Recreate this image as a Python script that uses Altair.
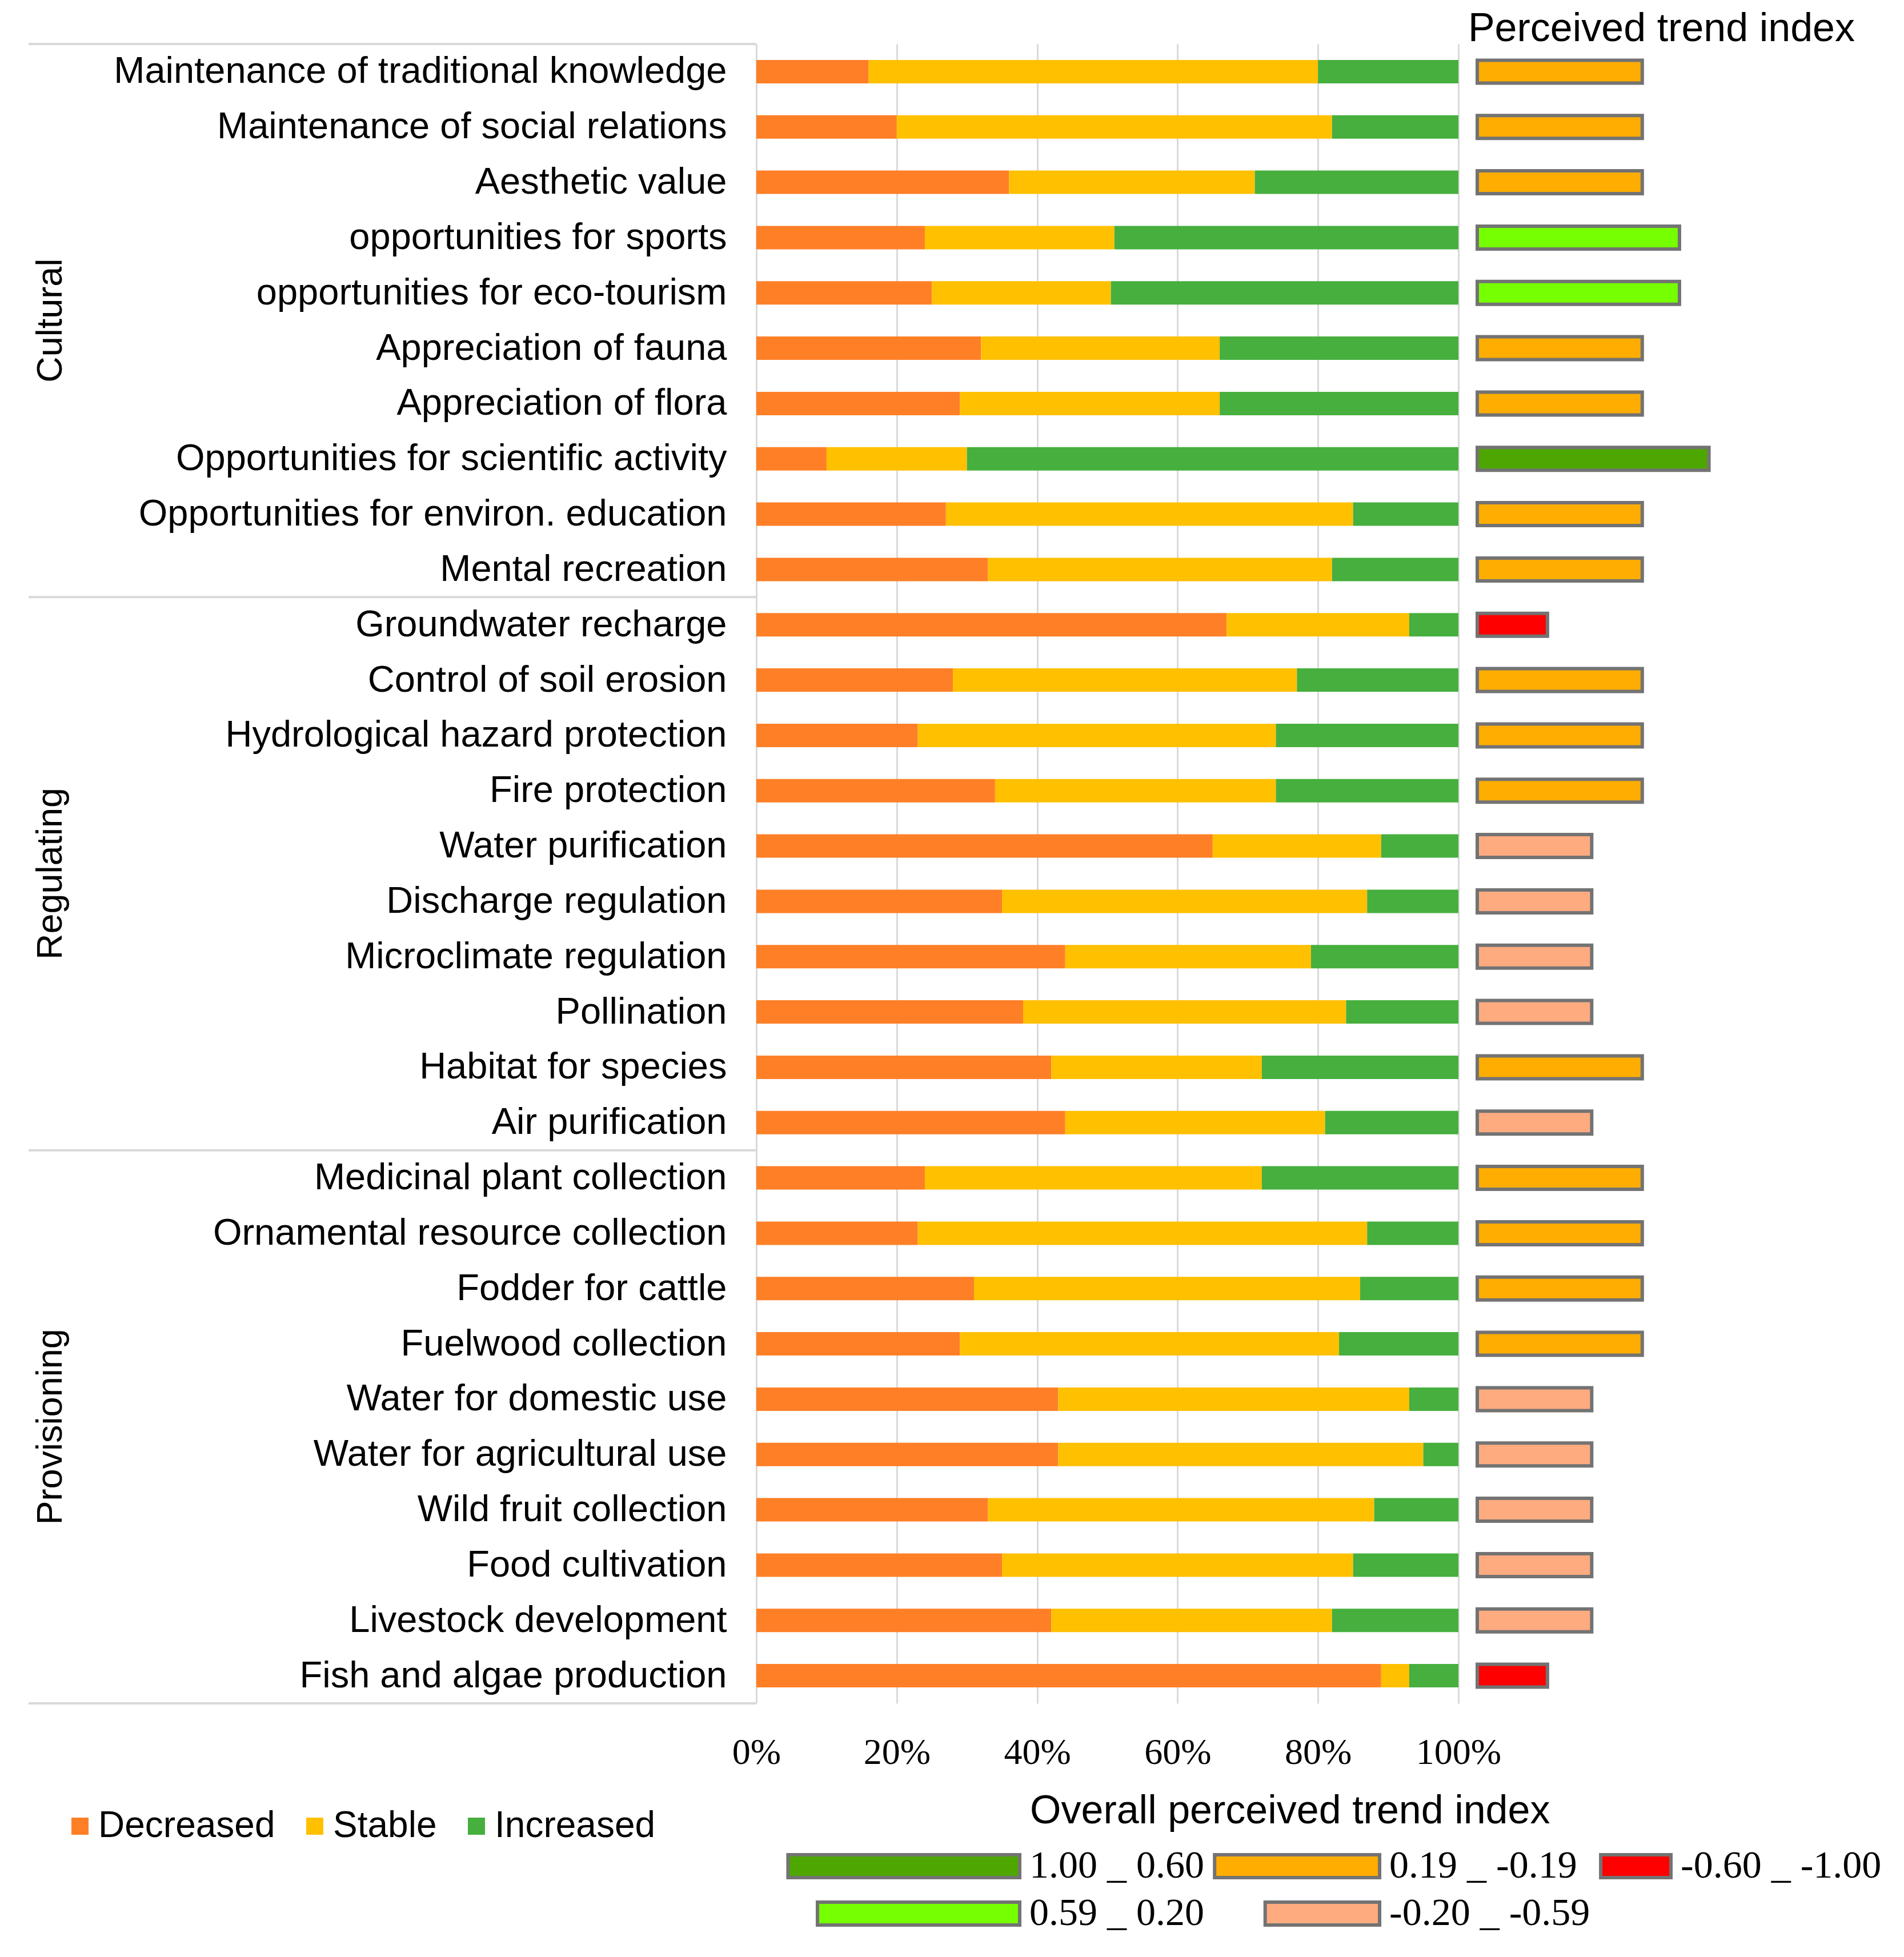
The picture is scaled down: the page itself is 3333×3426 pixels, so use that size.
import altair as alt
import pandas as pd

NB = "\u00a0"
categories = [
    "Maintenance of traditional knowledge" + NB,
    "Maintenance of social relations",
    "Aesthetic value",
    "opportunities for sports",
    "opportunities for eco-tourism",
    "Appreciation of fauna",
    "Appreciation of flora",
    "Opportunities for scientific activity",
    "Opportunities for environ. education",
    "Mental recreation" + NB,
    "Groundwater recharge",
    "Control of soil erosion",
    "Hydrological hazard protection" + NB,
    "Fire protection",
    "Water purification",
    "Discharge regulation",
    "Microclimate regulation",
    "Pollination",
    "Habitat for species",
    "Air purification",
    "Medicinal plant collection",
    "Ornamental resource collection",
    "Fodder for cattle",
    "Fuelwood collection",
    "Water for domestic use",
    "Water for agricultural use",
    "Wild fruit collection",
    "Food cultivation",
    "Livestock development",
    "Fish and algae production",
]
group_names = ["Cultural", "Regulating", "Provisioning"]
groups = ["Cultural"] * 10 + ["Regulating"] * 10 + ["Provisioning"] * 10

decreased = [16, 20, 36, 24, 25, 32, 29, 10, 27, 33,
             67, 28, 23, 34, 65, 35, 44, 38, 42, 44,
             24, 23, 31, 29, 43, 43, 33, 35, 42, 89]
stable = [64, 62, 35, 27, 25.5, 34, 37, 20, 58, 49,
          26, 49, 51, 40, 24, 52, 35, 46, 30, 37,
          48, 64, 55, 54, 50, 52, 55, 50, 40, 4]
increased = [20, 18, 29, 49, 49.5, 34, 34, 70, 15, 18,
             7, 23, 26, 26, 11, 13, 21, 16, 28, 19,
             28, 13, 14, 17, 7, 5, 12, 15, 18, 7]

C_DG, C_LG, C_OR, C_SA, C_RD = "1.00 _ 0.60", "0.59 _ 0.20", "0.19 _ -0.19", "-0.20 _ -0.59", "-0.60 _ -1.00"
trend_class = [C_OR, C_OR, C_OR, C_LG, C_LG, C_OR, C_OR, C_DG, C_OR, C_OR,
               C_RD, C_OR, C_OR, C_OR, C_SA, C_SA, C_SA, C_SA, C_OR, C_SA,
               C_OR, C_OR, C_OR, C_OR, C_SA, C_SA, C_SA, C_SA, C_SA, C_RD]

responses = ["Decreased", "Stable", "Increased"]
response_colors = ["#FF7F27", "#FFC000", "#46AF3E"]

class_labels = [C_DG, C_LG, C_OR, C_SA, C_RD]
class_colors = ["#4EA700", "#76FF00", "#FFAD00", "#FFAB80", "#FF0000"]
class_bar = [0.330, 0.288, 0.235, 0.163, 0.100]  # bar length, share of the 0-100% span
BORDER = "#737373"

SPAN = 1229
PLOT_W = 1923
PLOT_H = 2905

df = pd.DataFrame({"category": categories, "group": groups,
                   "Decreased": decreased, "Stable": stable, "Increased": increased,
                   "cls": trend_class})
df["bar"] = df["cls"].map(dict(zip(class_labels, class_bar)))

long = df.melt(id_vars=["category"], value_vars=responses, var_name="response", value_name="pct")
long["rorder"] = long["response"].map({r: i for i, r in enumerate(responses)})

first_cats = df.groupby("group", sort=False)["category"].first().reset_index()
last_cat = df.tail(1)[["group", "category"]]
mid_cats = df.groupby("group", sort=False).nth(5)[["group", "category"]]


def Y(**kw):
    return alt.Y("category:N", sort=categories, title=None,
                 scale=alt.Scale(paddingInner=0, paddingOuter=0),
                 axis=alt.Axis(labelFont="Liberation Sans", labelFontSize=65, labelColor="black",
                               labelPadding=52, labelLimit=0, ticks=False, domain=False, grid=False),
                 **kw)


bars = alt.Chart(long).mark_bar(size=41).encode(
    y=Y(),
    x=alt.X("pct:Q", stack="zero",
            scale=alt.Scale(domain=[0, 100], range=[0, SPAN], nice=False),
            axis=alt.Axis(values=[0, 20, 40, 60, 80, 100], labelExpr="datum.value + '%'",
                          grid=True, gridColor="#D9D9D9", gridWidth=3, domain=False, ticks=False,
                          labelFlush=False, labelFont="Liberation Serif", labelFontSize=64,
                          labelColor="black", labelPadding=54, title=None)),
    color=alt.Color("response:N", sort=responses,
                    scale=alt.Scale(domain=responses, range=response_colors),
                    legend=alt.Legend(title=None, orient="none", legendX=-1216, legendY=3088,
                                      direction="horizontal", symbolType="square", symbolSize=900,
                                      symbolStrokeWidth=0, labelFont="Liberation Sans",
                                      labelFontSize=64, labelColor="black", labelOffset=0,
                                      columnPadding=37, labelLimit=0, padding=0)),
    order=alt.Order("rorder:Q"),
)

idx = alt.Chart(df).mark_bar(size=40, stroke=BORDER, strokeWidth=6).encode(
    y=Y(),
    x=alt.X("bar:Q", scale=alt.Scale(domain=[0, 1], range=[1262, 1262 + SPAN], nice=False), axis=None),
    fill=alt.Fill("cls:N", scale=alt.Scale(domain=class_labels, range=class_colors), legend=None),
)

paths = [f"M{-52 - w * SPAN:.1f},-20H-52V20H{-52 - w * SPAN:.1f}Z" for w in class_bar]
idx_legend = alt.Legend(title="Overall perceived trend index", orient="none", legendX=479, legendY=3060,
                        columns=3, gridAlign="each", titleFont="Liberation Sans", titleFontSize=70,
                        titleFontWeight="normal", titleColor="black", titleAnchor="start",
                        titleLimit=0, titlePadding=26, labelFont="Liberation Serif", labelFontSize=68,
                        labelColor="black", labelOffset={"expr": "-69"}, labelLimit=0, symbolSize=4,
                        symbolStrokeWidth=6, symbolOpacity=1,
                        columnPadding=6, rowPadding=15, padding=0)
cls_df = pd.DataFrame({"cls": class_labels})
pts = alt.Chart(cls_df).transform_filter("false").mark_point(
    filled=True, size=4, opacity=1, strokeWidth=6).encode(
    fill=alt.Fill("cls:N", scale=alt.Scale(domain=class_labels, range=class_colors), legend=idx_legend),
    shape=alt.Shape("cls:N", scale=alt.Scale(domain=class_labels, range=paths), legend=idx_legend),
    stroke=alt.Stroke("cls:N", scale=alt.Scale(domain=class_labels, range=[BORDER] * len(class_labels)),
                      legend=idx_legend),
)

rules_top = alt.Chart(first_cats).mark_rule(color="#D9D9D9", strokeWidth=4).encode(
    y=Y(bandPosition=0), x=alt.value(-1274), x2=alt.value(0))
rules_bot = alt.Chart(last_cat).mark_rule(color="#D9D9D9", strokeWidth=4).encode(
    y=Y(bandPosition=1), x=alt.value(-1274), x2=alt.value(0))

grp_labels = alt.Chart(mid_cats).mark_text(angle=270, font="Liberation Sans", fontSize=63,
                                           color="black").encode(
    y=Y(bandPosition=0), x=alt.value(-1235), text="group:N")

chart = alt.layer(bars, idx, pts, rules_top, rules_bot, grp_labels).resolve_scale(
    x="independent", fill="independent", shape="independent", stroke="independent").resolve_legend(
    fill="independent", shape="independent", stroke="independent").properties(
    width=PLOT_W, height=PLOT_H,
    title=alt.Title("Perceived trend index", anchor="end", frame="group", font="Liberation Sans",
                    fontSize=70, fontWeight="normal", color="black", offset=-12),
    padding={"left": 40, "top": 8, "right": 5, "bottom": 5},
).configure_view(stroke=None)

chart.save("out.html", embed_options={"renderer": "svg", "actions": False})
